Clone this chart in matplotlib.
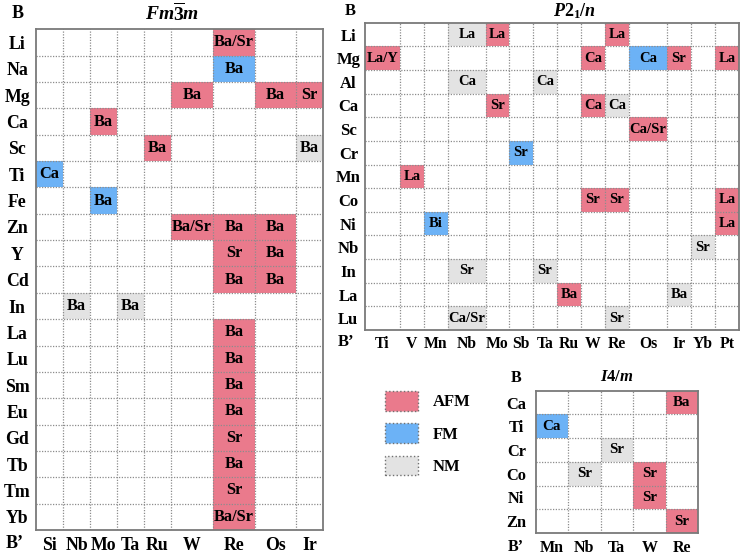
import matplotlib
matplotlib.use('Agg')
import matplotlib.pyplot as plt
from matplotlib.patches import Rectangle, Patch
import numpy as np

plt.rcParams['font.family'] = ['Liberation Serif', 'DejaVu Serif']
plt.rcParams['font.weight'] = 'bold'
plt.rcParams['mathtext.fontset'] = 'custom'
plt.rcParams['mathtext.it'] = 'Liberation Serif:italic:bold'
plt.rcParams['mathtext.rm'] = 'Liberation Serif:bold'
plt.rcParams['mathtext.bf'] = 'Liberation Serif:bold'

COLORS = {'AFM': '#ea7a8c', 'FM': '#6cb2f6', 'NM': '#e3e3e3'}
states = ['AFM', 'FM', 'NM']

# Fm-3m
fm_rows = ['Li', 'Na', 'Mg', 'Ca', 'Sc', 'Ti', 'Fe', 'Zn', 'Y', 'Cd', 'In',
           'La', 'Lu', 'Sm', 'Eu', 'Gd', 'Tb', 'Tm', 'Yb']
fm_cols = ['Si', 'Nb', 'Mo', 'Ta', 'Ru', 'W', 'Re', 'Os', 'Ir']
fm_cells = [
    ('Li', 'Re', 'Ba/Sr', 'AFM'),
    ('Na', 'Re', 'Ba', 'FM'),
    ('Mg', 'W', 'Ba', 'AFM'), ('Mg', 'Os', 'Ba', 'AFM'), ('Mg', 'Ir', 'Sr', 'AFM'),
    ('Ca', 'Mo', 'Ba', 'AFM'),
    ('Sc', 'Ru', 'Ba', 'AFM'), ('Sc', 'Ir', 'Ba', 'NM'),
    ('Ti', 'Si', 'Ca', 'FM'),
    ('Fe', 'Mo', 'Ba', 'FM'),
    ('Zn', 'W', 'Ba/Sr', 'AFM'), ('Zn', 'Re', 'Ba', 'AFM'), ('Zn', 'Os', 'Ba', 'AFM'),
    ('Y', 'Re', 'Sr', 'AFM'), ('Y', 'Os', 'Ba', 'AFM'),
    ('Cd', 'Re', 'Ba', 'AFM'), ('Cd', 'Os', 'Ba', 'AFM'),
    ('In', 'Nb', 'Ba', 'NM'), ('In', 'Ta', 'Ba', 'NM'),
    ('La', 'Re', 'Ba', 'AFM'), ('Lu', 'Re', 'Ba', 'AFM'),
    ('Sm', 'Re', 'Ba', 'AFM'), ('Eu', 'Re', 'Ba', 'AFM'),
    ('Gd', 'Re', 'Sr', 'AFM'), ('Tb', 'Re', 'Ba', 'AFM'),
    ('Tm', 'Re', 'Sr', 'AFM'), ('Yb', 'Re', 'Ba/Sr', 'AFM'),
]

# P2_1/n
p_rows = ['Li', 'Mg', 'Al', 'Ca', 'Sc', 'Cr', 'Mn', 'Co', 'Ni', 'Nb', 'In', 'La', 'Lu']
p_cols = ['Ti', 'V', 'Mn', 'Nb', 'Mo', 'Sb', 'Ta', 'Ru', 'W', 'Re', 'Os', 'Ir', 'Yb', 'Pt']
p_cells = [
    ('Li', 'Nb', 'La', 'NM'), ('Li', 'Mo', 'La', 'AFM'), ('Li', 'Re', 'La', 'AFM'),
    ('Mg', 'Ti', 'La/Y', 'AFM'), ('Mg', 'W', 'Ca', 'AFM'), ('Mg', 'Os', 'Ca', 'FM'),
    ('Mg', 'Ir', 'Sr', 'AFM'), ('Mg', 'Pt', 'La', 'AFM'),
    ('Al', 'Nb', 'Ca', 'NM'), ('Al', 'Ta', 'Ca', 'NM'),
    ('Ca', 'Mo', 'Sr', 'AFM'), ('Ca', 'W', 'Ca', 'AFM'), ('Ca', 'Re', 'Ca', 'NM'),
    ('Sc', 'Os', 'Ca/Sr', 'AFM'),
    ('Cr', 'Sb', 'Sr', 'FM'),
    ('Mn', 'V', 'La', 'AFM'),
    ('Co', 'W', 'Sr', 'AFM'), ('Co', 'Re', 'Sr', 'AFM'), ('Co', 'Pt', 'La', 'AFM'),
    ('Ni', 'Mn', 'Bi', 'FM'), ('Ni', 'Pt', 'La', 'AFM'),
    ('Nb', 'Yb', 'Sr', 'NM'),
    ('In', 'Nb', 'Sr', 'NM'), ('In', 'Ta', 'Sr', 'NM'),
    ('La', 'Ru', 'Ba', 'AFM'), ('La', 'Ir', 'Ba', 'NM'),
    ('Lu', 'Nb', 'Ca/Sr', 'NM'), ('Lu', 'Re', 'Sr', 'NM'),
]

# I4/m
i_rows = ['Ca', 'Ti', 'Cr', 'Co', 'Ni', 'Zn']
i_cols = ['Mn', 'Nb', 'Ta', 'W', 'Re']
i_cells = [
    ('Ca', 'Re', 'Ba', 'AFM'),
    ('Ti', 'Mn', 'Ca', 'FM'),
    ('Cr', 'Ta', 'Sr', 'NM'),
    ('Co', 'Nb', 'Sr', 'NM'), ('Co', 'W', 'Sr', 'AFM'),
    ('Ni', 'W', 'Sr', 'AFM'),
    ('Zn', 'Re', 'Sr', 'AFM'),
]

# layout (pixels)
W, H = 741, 555
fm_widths = [27, 27, 27, 27, 27, 42, 42, 41, 27]
p_widths = [35, 24, 24, 38, 23, 24, 24, 24, 24, 24, 38, 24, 24, 24]
i_widths = [1, 1, 1, 1, 1]


def px_axes(fig, x0, y0, x1, y1):
    return fig.add_axes([x0 / W, 1 - y1 / H, (x1 - x0) / W, (y1 - y0) / H])


def draw_grid(ax, rows, cols, widths, cells, fs_cell, fs_row, fs_col, ypad, xpad):
    edges = np.concatenate([[0], np.cumsum(widths)])
    centers = (edges[:-1] + edges[1:]) / 2
    for b, bp, a, state in cells:
        i = rows.index(b)
        j = cols.index(bp)
        ax.add_patch(Rectangle((edges[j], i), widths[j], 1,
                               facecolor=COLORS[state], edgecolor='none', zorder=1))
        ax.text(centers[j], i + 0.5, a, ha='center', va='center',
                fontsize=fs_cell, fontweight='bold', zorder=3)
    for x in edges[1:-1]:
        ax.axvline(x, color='#8c8c8c', lw=0.9, ls=(0, (1, 1.2)), zorder=2)
    for y in range(1, len(rows)):
        ax.axhline(y, color='#8c8c8c', lw=0.9, ls=(0, (1, 1.2)), zorder=2)
    ax.set_xlim(0, edges[-1])
    ax.set_ylim(len(rows), 0)
    ax.set_xticks(centers, cols)
    ax.set_yticks(np.arange(len(rows)) + 0.5, rows)
    ax.tick_params(length=0)
    ax.tick_params(axis='y', labelsize=fs_row, pad=ypad)
    ax.tick_params(axis='x', labelsize=fs_col, pad=xpad)
    for lab in ax.get_yticklabels():
        lab.set_ha('center')
        lab.set_fontweight('bold')
    for lab in ax.get_xticklabels():
        lab.set_fontweight('bold')
    for s in ax.spines.values():
        s.set_color('#7a7a7a')
        s.set_linewidth(1.3)
        s.set_zorder(4)


fig = plt.figure(figsize=(W / 100, H / 100), dpi=100)

ax1 = px_axes(fig, 36, 29.3, 323, 530)
draw_grid(ax1, fm_rows, fm_cols, fm_widths, fm_cells, 11.8, 12.8, 12.8, 13.5, 5)

ax2 = px_axes(fig, 365, 22.7, 739, 330)
draw_grid(ax2, p_rows, p_cols, p_widths, p_cells, 10.5, 12, 11.3, 12, 4)

ax3 = px_axes(fig, 535.7, 390.7, 698, 533)
draw_grid(ax3, i_rows, i_cols, i_widths, i_cells, 10.8, 11.8, 11.5, 14, 5)

# axis names and titles
fig.text(18 / W, 1 - 14 / H, 'B', ha='center', va='center', fontsize=13, fontweight='bold')
fig.text(15 / W, 1 - 544 / H, 'B\u2019', ha='center', va='center', fontsize=13, fontweight='bold')
fig.text(350 / W, 1 - 11 / H, 'B', ha='center', va='center', fontsize=12, fontweight='bold')
fig.text(346 / W, 1 - 342 / H, 'B\u2019', ha='center', va='center', fontsize=12, fontweight='bold')
fig.text(516 / W, 1 - 378 / H, 'B', ha='center', va='center', fontsize=11.5, fontweight='bold')
fig.text(516 / W, 1 - 547 / H, 'B\u2019', ha='center', va='center', fontsize=11.5, fontweight='bold')

fig.text(172 / W, 1 - 13 / H, r'$Fm\overline{3}m$', ha='center', va='center', fontsize=14)
fig.text(575 / W, 1 - 11 / H, r'$P2_1/n$', ha='center', va='center', fontsize=13)
fig.text(617 / W, 1 - 377 / H, r'$I4/m$', ha='center', va='center', fontsize=12)

# legend
handles = [Patch(facecolor=COLORS[s], edgecolor='#707070', linestyle=':', linewidth=1.0)
           for s in states]
leg = fig.legend(handles, states, loc='upper left',
                 bbox_to_anchor=(385 / W, 1 - 391 / H), frameon=False,
                 fontsize=12, handlelength=1.95, handleheight=1.45,
                 labelspacing=0.75, handletextpad=0.9, borderpad=0,
                 borderaxespad=0)
for t in leg.get_texts():
    t.set_fontweight('bold')

fig.savefig('out.png', dpi=100)
